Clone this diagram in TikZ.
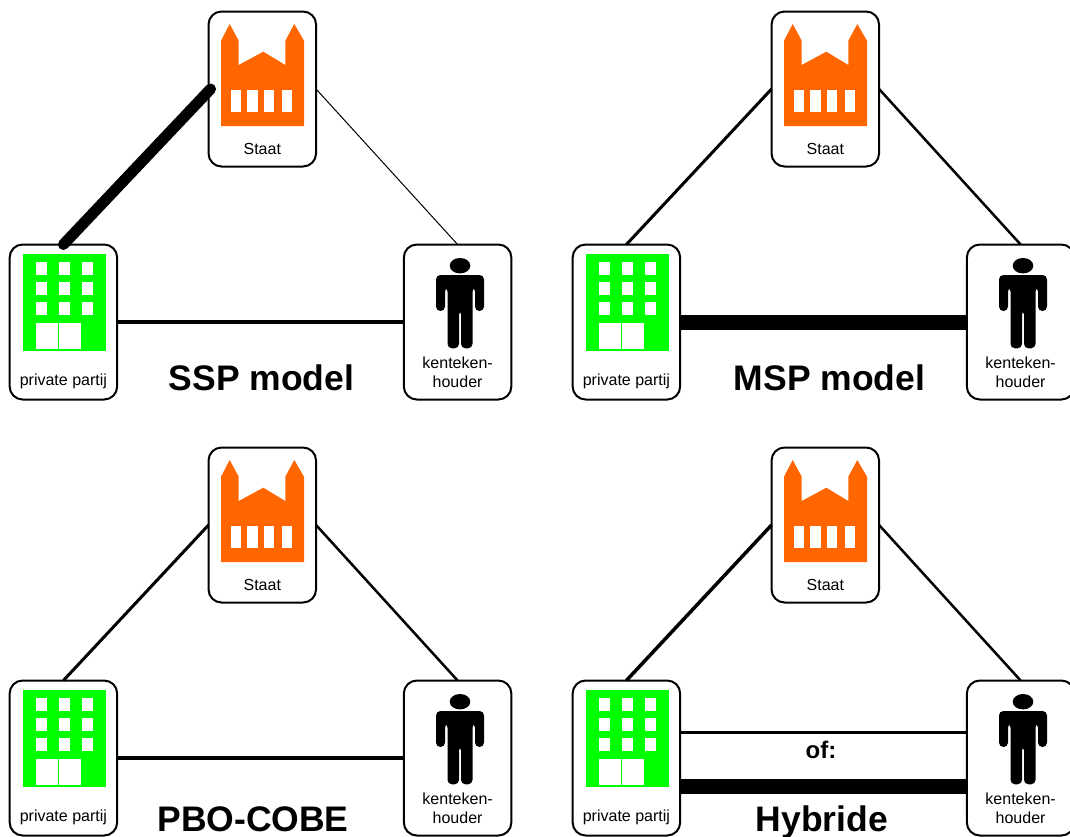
\documentclass[tikz,border=0pt]{standalone}
\usepackage{fontspec}
\setmainfont{Liberation Sans}
\definecolor{kerk}{HTML}{FF6600}
\definecolor{bouw}{HTML}{00FF00}
\tikzset{
  actor/.style={draw=black,line width=2pt,fill=white,rounded corners=13pt,minimum width=107.5pt,minimum height=155pt,inner sep=0pt,outer sep=0pt},
  lbl/.style={inner sep=0pt,font=\fontsize{16}{19}\selectfont,align=center},
  titel/.style={inner sep=0pt,anchor=base,font=\fontsize{35.5}{40}\selectfont\bfseries},
  conn/.style={draw=black,line width=#1},
  conn/.default=3.5pt
}
\newcommand{\churchicon}{%
  \fill[kerk] (221,126) -- (221,40.7) -- (229.7,24) -- (238.7,40.7) -- (238.7,65) -- (263.3,51.7) -- (285.3,65) -- (285.3,40.7) -- (294.3,24) -- (304,40.7) -- (304,126) -- cycle;
  \foreach \wx in {231,247.3,263.7,281.7} \fill[white] (\wx,90) rectangle (\wx+10.3,111.7);
}
\newcommand{\buildingicon}{%
  \fill[bouw] (23.3,254) rectangle (105.7,350.7);
  \foreach \wx in {36,58.7,82} \foreach \wy in {261.7,281.7,302.3} \fill[white] (\wx,\wy) rectangle (\wx+11,\wy+12.8);
  \fill[white] (36,323.3) rectangle (58.3,349);
  \fill[white] (59,323.3) rectangle (81.3,349);
}
\newcommand{\personicon}{%
  \fill[black] (460,265.7) ellipse [x radius=10.3,y radius=7.7];
  \fill[black,rounded corners=4.4pt] (436,311) -- (436,275) -- (484,275) -- (484,311) -- (475,311) -- (475,287) -- (472.5,287) -- (472.5,348.3) -- (461,348.3) -- (461,310) -- (459,310) -- (459,348.3) -- (447.5,348.3) -- (447.5,287) -- (445,287) -- (445,311) -- cycle;
}
\newcommand{\panel}[4]{%
  \begin{scope}[shift={(#2,#3)}]
    \node[actor] (#1staat) at (262.3,89) {};
    \node[actor] (#1priv) at (63.4,322) {};
    \node[actor] (#1pers) at (457.6,322) {};
    \churchicon
    \buildingicon
    \personicon
    \node[lbl] (#1staatl) at (262.3,148.5) {Staat};
    \node[lbl] (#1privl) at (63.4,381.5) {private partij};
    \node[lbl] (#1persl) at (457.6,372) {kenteken-\\houder};
  \end{scope}
}
\begin{document}
\begin{tikzpicture}[x=1pt,y=-1pt]
\useasboundingbox (0,0) rectangle (1070,836);
\clip (0,0) rectangle (1070,836);
\fill[white] (0,0) rectangle (1070,836);
% SSP
\panel{a}{0}{0}{}
\draw[conn=11pt,line cap=round] ([xshift=2pt]astaat.west) -- (apriv.north);
\draw[conn=1pt] (astaat.east) -- (apers.north);
\draw[conn=3.5pt] (apriv.east) -- (apers.west);
\node[titel] (at) at (261.5,390) {SSP model};
% MSP
\panel{b}{563}{0}{}
\draw[conn=3pt] (bstaat.west) -- (bpriv.north);
\draw[conn=2.5pt] (bstaat.east) -- (bpers.north);
\draw[conn=15pt] (bpriv.east) -- (bpers.west);
\node[titel] (bt) at (829.5,390) {MSP model};
% PBO-COBE
\panel{c}{0}{436}{}
\draw[conn=3pt] (cstaat.west) -- (cpriv.north);
\draw[conn=2.5pt] (cstaat.east) -- (cpers.north);
\draw[conn=3.5pt] (cpriv.east) -- (cpers.west);
\node[titel] (ct) at (253,831.5) {PBO-COBE};
% Hybride
\panel{d}{563}{436}{}
\draw[conn=3.5pt] (dstaat.west) -- (dpriv.north);
\draw[conn=2.5pt] (dstaat.east) -- (dpers.north);
\draw[conn=3.5pt] ([yshift=25.7pt]dpriv.east) -- ([yshift=25.7pt]dpers.west);
\draw[conn=15pt] ([yshift=-28.7pt]dpriv.east) -- ([yshift=-28.7pt]dpers.west);
\node[lbl,font=\fontsize{24}{28}\selectfont\bfseries] (dof) at (821,750) {of:};
\node[titel] (dt) at (822,831.5) {Hybride};
\end{tikzpicture}
\end{document}
